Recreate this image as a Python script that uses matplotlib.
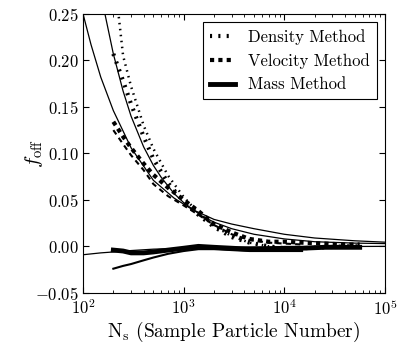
import numpy as np
import matplotlib
matplotlib.use('Agg')
import matplotlib.pyplot as plt

plt.rcParams['font.family'] = 'serif'
plt.rcParams['font.serif'] = ['cmr10']
plt.rcParams['mathtext.fontset'] = 'cm'
plt.rcParams['axes.formatter.use_mathtext'] = True
plt.rcParams['axes.unicode_minus'] = True

# sample sizes of the runs
n_a = [200, 250, 300, 400, 500, 700, 1000, 1400, 2000, 3000, 4500, 7000,
       10000, 15000, 25000, 40000, 56000]
n_b = [200, 250, 300, 400, 500, 700, 1000, 1400, 2000, 3000, 4500, 7000,
       10000, 15000]

# density method
dens_a = [0.207, 0.178, 0.153, 0.118, 0.094, 0.068, 0.048, 0.034, 0.021,
          0.010, 0.004, 0.000, -0.002, -0.002, -0.001, 0.000, 0.000]
dens_b = [0.300, 0.205, 0.172, 0.130, 0.105, 0.076, 0.053, 0.036, 0.022,
          0.011, 0.004, 0.000, -0.002, -0.003]

# velocity method
vel_a = [0.134, 0.118, 0.106, 0.089, 0.077, 0.063, 0.050, 0.038, 0.024,
         0.015, 0.008, 0.005, 0.005, 0.004, 0.003, 0.002, 0.002]
vel_b = [0.125, 0.110, 0.098, 0.082, 0.067, 0.054, 0.044, 0.034, 0.023,
         0.013, 0.007, 0.004, 0.003, 0.002]

# mass method
mass_a = [-0.004, -0.005, -0.007, -0.007, -0.006, -0.004, -0.002, 0.000,
          -0.001, -0.002, -0.003, -0.003, -0.002, -0.002, -0.001, -0.001, -0.001]
mass_b = [-0.024, -0.021, -0.019, -0.015, -0.012, -0.008, -0.005, -0.003,
          -0.003, -0.004, -0.005, -0.005, -0.005, -0.005]

# fitted curves (thin solid)
fit1_n = [100, 120, 150, 200, 300, 500, 800, 1200, 2000, 3000, 5000, 10000,
          20000, 50000, 100000]
fit1_f = [0.25, 0.217, 0.182, 0.146, 0.106, 0.071, 0.052, 0.040, 0.029,
          0.024, 0.019, 0.013, 0.009, 0.006, 0.0045]
fit2_n = [165, 200, 250, 300, 400, 500, 600, 800, 1000, 1500, 2000, 3000,
          5000, 10000, 20000, 50000, 100000]
fit2_f = [0.25, 0.207, 0.167, 0.140, 0.107, 0.087, 0.074, 0.057, 0.047,
          0.033, 0.026, 0.019, 0.013, 0.008, 0.005, 0.0035, 0.003]
fit3_n = [100, 150, 200, 300, 500, 1000, 2000, 5000, 10000, 100000]
fit3_f = [-0.009, -0.007, -0.006, -0.0045, -0.003, -0.002, -0.0012, -0.0006,
          -0.0003, 0.0]

fig = plt.figure(figsize=(4.07, 3.47), dpi=100)
ax = fig.add_axes([0.204, 0.156, 0.742, 0.804])

ax.plot(fit1_n, fit1_f, 'k-', lw=0.9)
ax.plot(fit2_n, fit2_f, 'k-', lw=0.9)
ax.plot(fit3_n, fit3_f, 'k-', lw=0.9)

ax.plot(n_a, dens_a, color='k', lw=3, dashes=(0.5, 1.5), label='Density Method')
ax.plot(n_b, dens_b, color='k', lw=1.8, dashes=(0.6, 1.8))
ax.plot(n_a, vel_a, color='k', lw=3, dashes=(1, 1), label='Velocity Method')
ax.plot(n_b, vel_b, color='k', lw=1.5, dashes=(2.5, 2))
ax.plot(n_a, mass_a, color='k', lw=3.5, label='Mass Method')
ax.plot(n_b, mass_b, color='k', lw=1.5)

ax.set_xscale('log')
ax.set_xlim(1e2, 1e5)
ax.set_ylim(-0.05, 0.25)
ax.set_yticks(np.arange(-0.05, 0.2501, 0.05))
ax.yaxis.set_major_formatter(matplotlib.ticker.FormatStrFormatter('$%.2f$'))

ax.tick_params(which='both', direction='in', top=True, right=True, labelsize=12)
ax.tick_params(which='major', length=4, pad=3)
ax.tick_params(axis='x', which='major', pad=4)
ax.tick_params(which='minor', length=2)

ax.set_xlabel(r'$\mathrm{N_s}$ (Sample Particle Number)', fontsize=14, labelpad=1)
ax.set_ylabel(r'$f_{\rm off}$', fontsize=15)
ax.yaxis.set_label_coords(-0.125, 0.5)

leg = ax.legend(loc='upper right', fontsize=12, handlelength=1.5,
                fancybox=False, edgecolor='k', framealpha=1,
                borderaxespad=0.5)
leg.get_frame().set_linewidth(0.8)

fig.savefig('out.png', dpi=100)
